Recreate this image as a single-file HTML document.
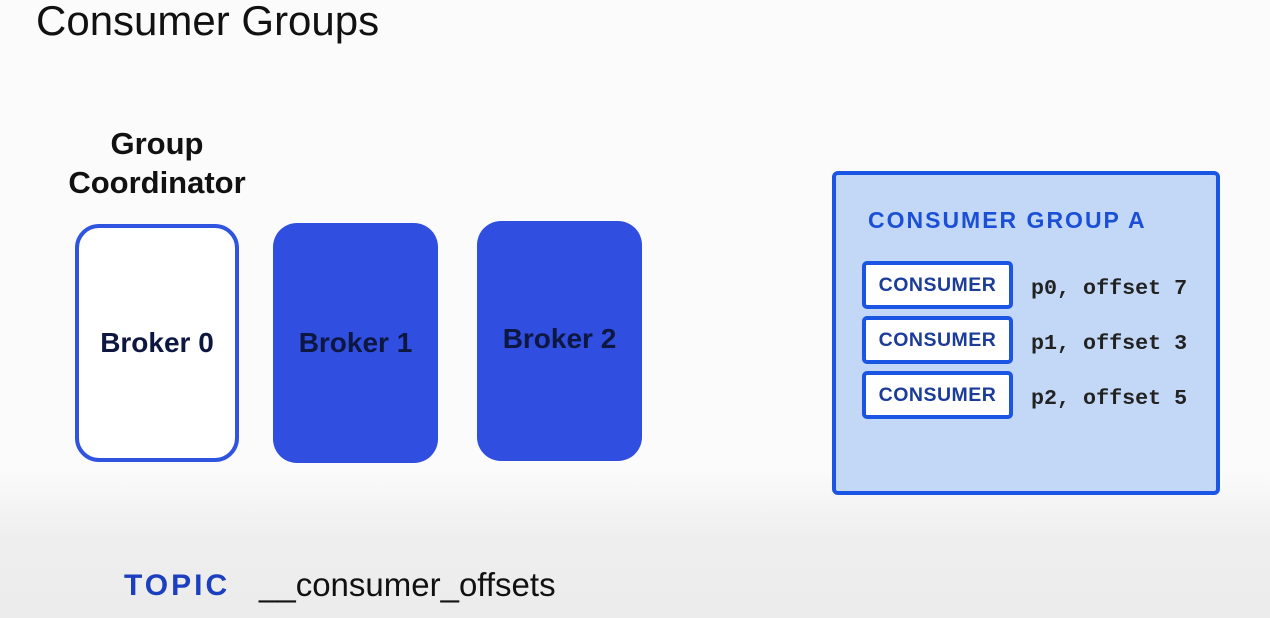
<!DOCTYPE html>
<html><head><style>
body{margin:0;width:1270px;height:618px;overflow:hidden;background:linear-gradient(#fbfbfb 0,#fbfbfb 470px,#eeeeee 540px,#ececec 618px);font-family:"Liberation Sans",sans-serif;position:relative}
.a{position:absolute}
.t{left:36px;top:-3px;font-size:42px;color:#111}
.gc{left:57px;top:124px;width:200px;text-align:center;font-weight:bold;font-size:31px;line-height:39px;color:#111}
.b{box-sizing:border-box;border-radius:24px;display:flex;align-items:center;justify-content:center;font-weight:bold;font-size:28px;color:#0d1740}
.grp{left:832px;top:171px;width:388px;height:324px;box-sizing:border-box;border:4px solid #1b55e3;border-radius:6px;background:#c3d8f6}
.gt{left:868px;top:207px;font-weight:bold;font-size:23px;letter-spacing:2px;color:#1b4fd6}
.c{left:862px;width:151px;height:48px;box-sizing:border-box;border:4px solid #1b55e3;border-radius:5px;background:#fff;display:flex;align-items:center;justify-content:center;font-weight:bold;font-size:19.5px;letter-spacing:.5px;color:#1c3c9a}
.o{left:1031px;font-family:"Liberation Mono",monospace;font-weight:bold;font-size:21.7px;color:#222}
</style></head><body>
<div class="a t">Consumer Groups</div>
<div class="a gc">Group<br>Coordinator</div>
<div class="a b" style="left:75px;top:224px;width:164px;height:238px;border:4px solid #2f55e0;background:#fff">Broker 0</div>
<div class="a b" style="left:273px;top:223px;width:165px;height:240px;background:#304ee0">Broker 1</div>
<div class="a b" style="left:477px;top:221px;width:165px;height:240px;background:#304ee0;padding-bottom:4px">Broker 2</div>
<div class="a grp"></div>
<div class="a gt">CONSUMER GROUP A</div>
<div class="a c" style="top:261px">CONSUMER</div>
<div class="a c" style="top:316px">CONSUMER</div>
<div class="a c" style="top:371px">CONSUMER</div>
<div class="a o" style="top:276px">p0, offset 7</div>
<div class="a o" style="top:331px">p1, offset 3</div>
<div class="a o" style="top:386px">p2, offset 5</div>
<div class="a" style="left:124px;top:569px;font-weight:bold;font-size:30px;letter-spacing:3px;color:#1b3fbf">TOPIC</div>
<div class="a" style="left:259px;top:566px;font-size:33px;color:#111">__consumer_offsets</div>
</body></html>
